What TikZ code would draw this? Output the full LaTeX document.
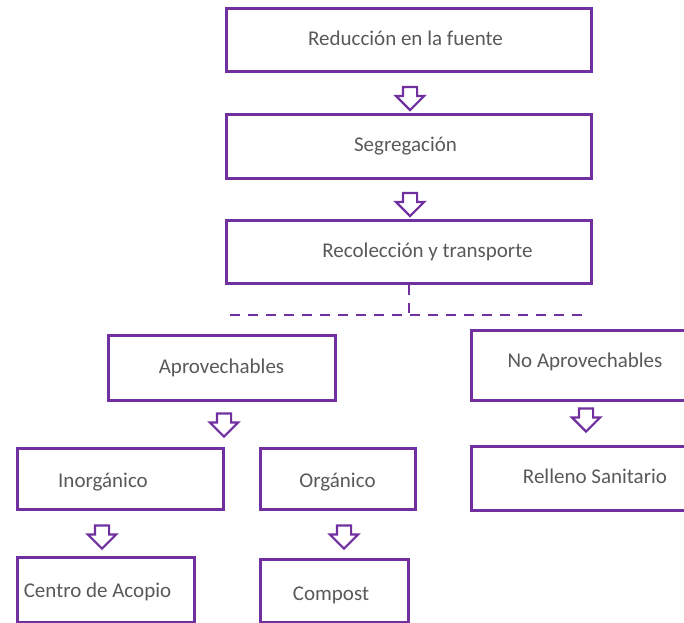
\documentclass[tikz,border=0pt]{standalone}
\usepackage{fontspec}
\setmainfont{Carlito}
\usepackage{tikz}
\usetikzlibrary{shapes.arrows}

\definecolor{morado}{HTML}{7030A0}
\definecolor{gristexto}{HTML}{595959}

\tikzset{
    caja/.style={draw=morado, line width=3pt, rectangle, inner sep=0pt,
        text height=15pt, text depth=4pt,
        text=gristexto, font=\fontsize{21}{25}\selectfont},
    flecha/.style={draw=morado, line width=2.2pt, single arrow, shape border rotate=270,
        minimum height=23pt, minimum width=26pt, inner sep=6pt, single arrow head extend=7pt},
    punteada/.style={draw=morado, line width=2pt, dash pattern=on 10pt off 8pt}
}

\begin{document}
\begin{tikzpicture}[x=1pt, y=-1pt]
    \useasboundingbox (0,0) rectangle (684,622);

    \node[caja, minimum width=365pt, minimum height=63pt] (reduccion) at (408.5,39.5) {Reducción en la fuente\hspace*{6pt}};
    \node[caja, minimum width=365pt, minimum height=64pt] (segregacion) at (408.5,146) {Segregación\hspace*{6pt}};
    \node[caja, minimum width=365pt, minimum height=63pt] (recoleccion) at (408.5,251.5) {\hspace*{38pt}Recolección y transporte};

    \node[caja, minimum width=227pt, minimum height=65pt] (aprov) at (221.5,367.5) {Aprovechables};
    \node[caja, minimum width=228pt, minimum height=70pt] (noaprov) at (585,365) {\raisebox{3pt}{No Aprovechables}};

    \node[caja, minimum width=206pt, minimum height=61pt] (inorg) at (120,478.5) {\raisebox{-3pt}{Inorgánico}\hspace*{34pt}};
    \node[caja, minimum width=155pt, minimum height=61pt] (org) at (337.5,478.5) {\raisebox{-3pt}{Orgánico}};
    \node[caja, minimum width=248pt, minimum height=64pt] (relleno) at (595,478) {Relleno Sanitario};

    \node[caja, minimum width=177pt, minimum height=65pt] (acopio) at (105.5,589.5) {\raisebox{-2pt}{Centro de Acopio}\hspace*{16pt}};
    \node[caja, minimum width=148pt, minimum height=63pt] (compost) at (334,590.5) {\raisebox{-4pt}{Compost}\hspace*{6pt}};

    \node[flecha] (f1) at (410,95) {};
    \node[flecha] (f2) at (410,201) {};
    \node[flecha] (f3) at (224,421.5) {};
    \node[flecha] (f4) at (586,416.5) {};
    \node[flecha] (f5) at (102,533.5) {};
    \node[flecha] (f6) at (344,533.5) {};

    \coordinate (division) at (409,315);
    \coordinate (izq) at (230,315);
    \coordinate (der) at (586,315);
    \draw[punteada] (recoleccion.south -| division) -- (division);
    \draw[punteada] (izq) -- (der);
\end{tikzpicture}
\end{document}
